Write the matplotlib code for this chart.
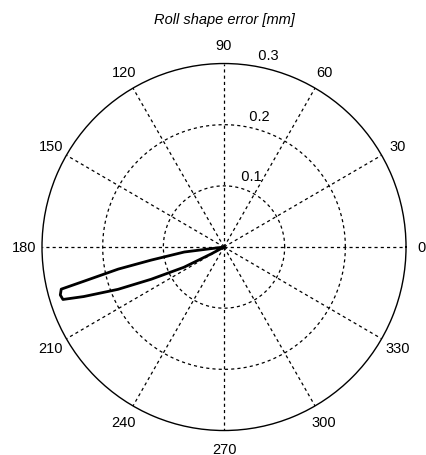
import numpy as np
import matplotlib
matplotlib.use("Agg")
import matplotlib.pyplot as plt

plt.rcParams['font.family'] = ['Liberation Sans', 'DejaVu Sans']

# Roll shape error contour (angle in degrees, radius in mm)
theta_deg = [184.0, 187.1, 190.1, 191.7, 193.6, 194.4, 196.2, 197.9,
             199.3, 201.6, 203.7, 206.6, 208.0, 210.0]
radius_mm = [0.000, 0.066, 0.122, 0.178, 0.237, 0.277, 0.281, 0.279,
             0.245, 0.188, 0.131, 0.074, 0.024, 0.000]

ring_values = [0.1, 0.2, 0.3]
spoke_angles = list(range(0, 360, 30))
r_max = 0.3
title_text = "Roll shape error [mm]"

fig = plt.figure(figsize=(4.26, 4.56), dpi=100)
ax = fig.add_axes([0.0986, 0.0537, 0.8545, 0.8048], projection='polar')
ax.set_aspect('auto')
ax.set_ylim(0, r_max)
ax.set_xticks([])
ax.set_yticks([])
ax.grid(False)
ax.spines['polar'].set_linewidth(1.0)
ax.spines['polar'].set_color('black')

dash = (0, (2.5, 2.5))
tt = np.linspace(0, 2 * np.pi, 361)
for rv in ring_values[:-1]:
    ax.plot(tt, np.full_like(tt, rv), color='black', lw=0.9, linestyle=dash)

for a in spoke_angles:
    t = np.deg2rad(a)
    ax.plot([t, t], [0, r_max], color='black', lw=0.9, linestyle=dash)
    # the 0 label sits right at the figure edge, so pull it in slightly
    r_lab = 1.085 * r_max if a == 0 else 1.1 * r_max
    ax.text(t, r_lab, str(a), ha='center', va='center',
            fontsize=10.5, clip_on=False)

# radial labels along the 82 degree direction
for rv in ring_values:
    ax.text(np.deg2rad(82), rv + r_max / 3 / 20, '  ' + f"{rv:g}",
            ha='left', va='bottom', fontsize=10.5, clip_on=False)

ax.plot(np.deg2rad(theta_deg), radius_mm, color='black', lw=2.0,
        solid_joinstyle='round')

fig.text(224 / 426, 1 - 20 / 456, title_text, ha='center', va='center',
         fontsize=10.5, style='italic')

fig.savefig('out.png', dpi=100)
